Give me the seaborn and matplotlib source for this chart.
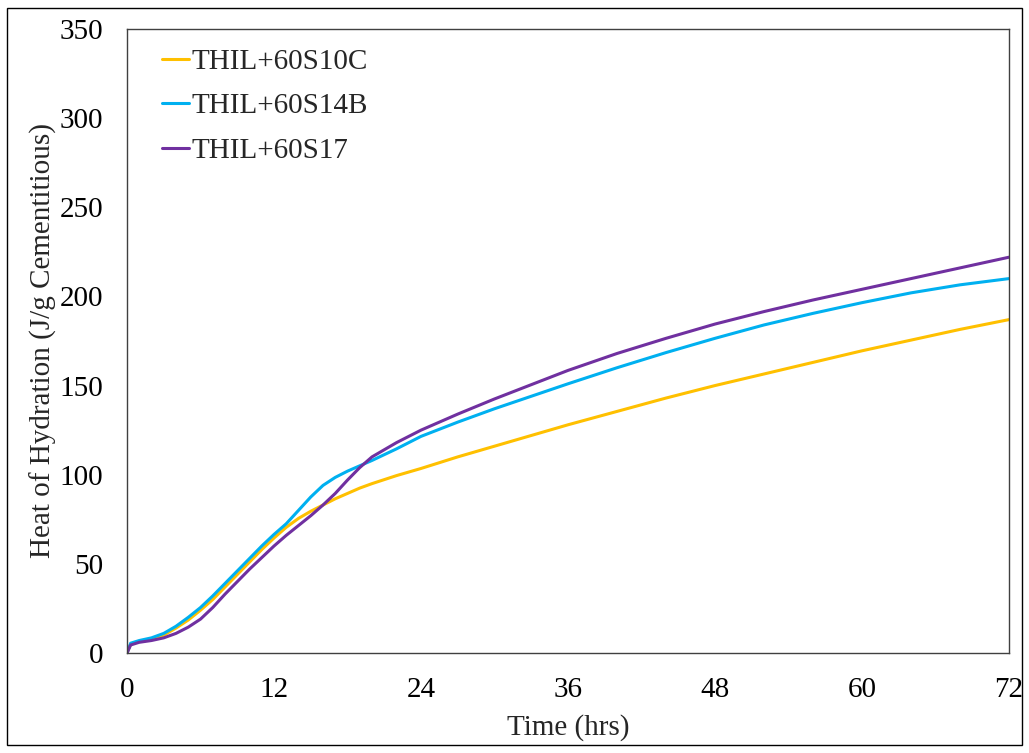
import numpy as np
import pandas as pd
import matplotlib
matplotlib.use("Agg")
import matplotlib.pyplot as plt
import seaborn as sns
from matplotlib.patches import Rectangle

# ---- data ----
time_hrs = [0, 0.3, 1, 2, 3, 4, 5, 6, 7, 8, 9, 10, 11, 12, 13, 14, 15, 16, 17, 18,
            19, 20, 22, 24, 27, 30, 33, 36, 40, 44, 48, 52, 56, 60, 64, 68, 72]
heat_60S10C = [0, 5, 6.5, 8, 10, 14, 18.5, 24, 30, 37, 44, 51, 58, 64.5, 70.5, 75.5,
               79.5, 83, 86.5, 89.5, 92.5, 95, 99.5, 103.5, 110, 116, 122, 128,
               135.5, 143, 150, 156.5, 163, 169.5, 175.5, 181.5, 187]
heat_60S14B = [0, 5.5, 7, 8.5, 11, 15, 20, 25.5, 32, 39, 46, 53, 60, 66.5, 72.5, 80,
               87.5, 94, 98.5, 102, 105, 108, 114.5, 121.5, 129.5, 137, 144, 151,
               160, 168.5, 176.5, 184, 190.5, 196.5, 202, 206.5, 210]
heat_60S17 = [0, 4.5, 6, 7, 8.5, 11, 14.5, 19, 25.5, 33, 40, 47, 53.5, 60, 66, 71.5,
              77, 83, 89.5, 97, 104, 110, 118, 125, 134, 142.5, 150.5, 158.5, 168,
              176.5, 184.5, 191.5, 198, 204, 210, 216, 222]
series_names = ["THIL+60S10C", "THIL+60S14B", "THIL+60S17"]
series_colors = ["#FFC000", "#00B0F0", "#7030A0"]
x_ticks = [0, 12, 24, 36, 48, 60, 72]
y_ticks = [0, 50, 100, 150, 200, 250, 300, 350]

frames = []
for name, vals in zip(series_names, [heat_60S10C, heat_60S14B, heat_60S17]):
    frames.append(pd.DataFrame({"Time": time_hrs, "Heat": vals, "Mix": name}))
df = pd.concat(frames, ignore_index=True)

sns.set_theme(style="white")
plt.rcParams["font.family"] = ["Liberation Serif", "DejaVu Serif"]

FS = 21
fig = plt.figure(figsize=(10.29, 7.53), dpi=100)
ax = fig.add_axes([127 / 1029, 1 - 653 / 753, (1009 - 127) / 1029, (653 - 29) / 753])

sns.lineplot(data=df, x="Time", y="Heat", hue="Mix", hue_order=series_names,
             palette=series_colors, linewidth=2.2, ax=ax, legend=True)

ax.set_xlim(0, 72)
ax.set_ylim(0, 350)
ax.set_xticks(x_ticks)
ax.set_yticks(y_ticks)
ax.tick_params(axis="x", direction="in", length=7, width=1, colors="#404040",
               labelsize=FS, labelcolor="black", pad=17)
ax.tick_params(axis="y", direction="out", length=8, width=1, colors="#404040",
               labelsize=FS, labelcolor="black", pad=9)
for s in ax.spines.values():
    s.set_visible(True)
    s.set_color("#404040")
    s.set_linewidth(1.0)
ax.set_xlabel("Time (hrs)", fontsize=FS, labelpad=8)
ax.set_ylabel("Heat of Hydration (J/g Cementitious)", fontsize=FS, labelpad=2)

leg = ax.legend(loc="upper left", frameon=False, fontsize=FS, handlelength=0.9,
                handletextpad=0.1, labelspacing=0.62, bbox_to_anchor=(0.04, 0.969),
                borderaxespad=0, borderpad=0)
for line in leg.get_lines():
    line.set_linewidth(2.2)

fig.patches.append(Rectangle((7 / 1029, 8 / 753), (1022 - 7) / 1029, (745 - 8) / 753,
                             transform=fig.transFigure, fill=False,
                             edgecolor="black", linewidth=1.0))

fig.savefig("out.png", dpi=100)
